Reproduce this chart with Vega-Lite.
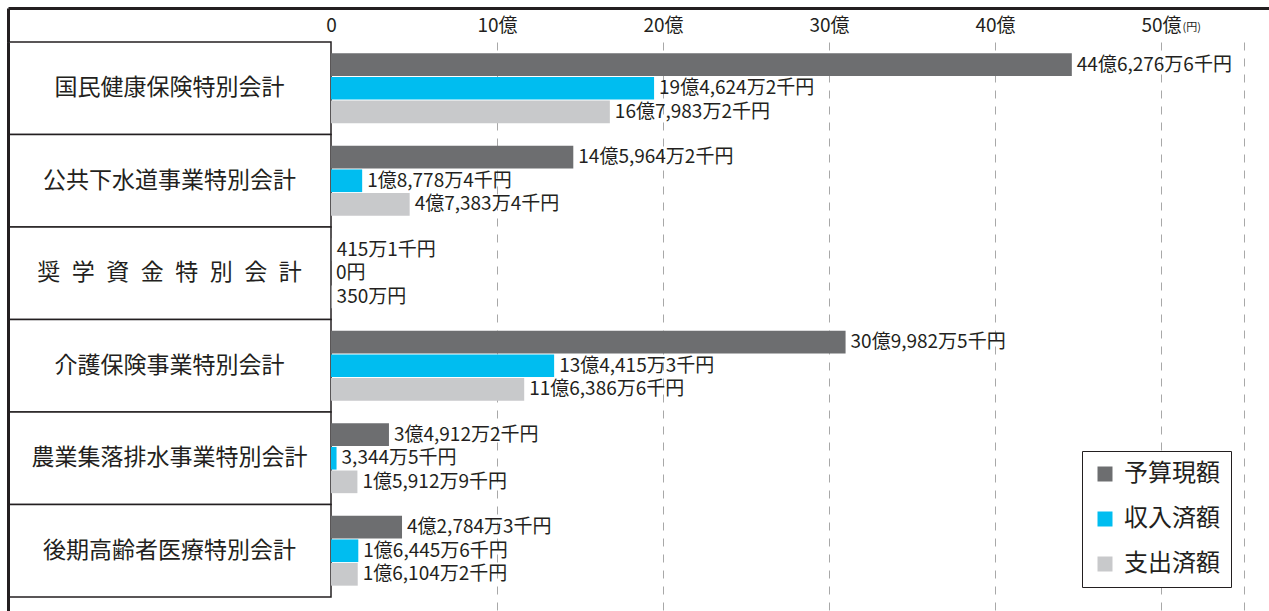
{
  "$schema": "https://vega.github.io/schema/vega-lite/v6.json",
  "width": 1261,
  "height": 569,
  "autosize": {"type": "none"},
  "padding": {"left": 8, "top": 42, "right": 0, "bottom": 0},
  "background": "white",
  "config": {
    "view": {"stroke": null},
    "font": "Noto Sans CJK JP",
    "legend": {"strokeColor": "#231f20", "fillColor": "white", "padding": 11}
  },
  "data": {
    "values": [
      {"cat": "国民健康保険特別会計", "series": "予算現額", "value": 4462766000, "label": "44億6,276万6千円"},
      {"cat": "国民健康保険特別会計", "series": "収入済額", "value": 1946242000, "label": "19億4,624万2千円"},
      {"cat": "国民健康保険特別会計", "series": "支出済額", "value": 1679832000, "label": "16億7,983万2千円"},
      {"cat": "公共下水道事業特別会計", "series": "予算現額", "value": 1459642000, "label": "14億5,964万2千円"},
      {"cat": "公共下水道事業特別会計", "series": "収入済額", "value": 187784000, "label": "1億8,778万4千円"},
      {"cat": "公共下水道事業特別会計", "series": "支出済額", "value": 473834000, "label": "4億7,383万4千円"},
      {"cat": "奨\u2002学\u2002資\u2002金\u2002特\u2002別\u2002会\u2002計", "series": "予算現額", "value": 4151000, "label": "415万1千円"},
      {"cat": "奨\u2002学\u2002資\u2002金\u2002特\u2002別\u2002会\u2002計", "series": "収入済額", "value": 0, "label": "0円"},
      {"cat": "奨\u2002学\u2002資\u2002金\u2002特\u2002別\u2002会\u2002計", "series": "支出済額", "value": 3500000, "label": "350万円"},
      {"cat": "介護保険事業特別会計", "series": "予算現額", "value": 3099825000, "label": "30億9,982万5千円"},
      {"cat": "介護保険事業特別会計", "series": "収入済額", "value": 1344153000, "label": "13億4,415万3千円"},
      {"cat": "介護保険事業特別会計", "series": "支出済額", "value": 1163866000, "label": "11億6,386万6千円"},
      {"cat": "農業集落排水事業特別会計", "series": "予算現額", "value": 349122000, "label": "3億4,912万2千円"},
      {"cat": "農業集落排水事業特別会計", "series": "収入済額", "value": 33445000, "label": "3,344万5千円"},
      {"cat": "農業集落排水事業特別会計", "series": "支出済額", "value": 159129000, "label": "1億5,912万9千円"},
      {"cat": "後期高齢者医療特別会計", "series": "予算現額", "value": 427843000, "label": "4億2,784万3千円"},
      {"cat": "後期高齢者医療特別会計", "series": "収入済額", "value": 164456000, "label": "1億6,445万6千円"},
      {"cat": "後期高齢者医療特別会計", "series": "支出済額", "value": 161042000, "label": "1億6,104万2千円"}
    ]
  },
  "encoding": {
    "y": {
      "field": "cat",
      "type": "nominal",
      "sort": ["国民健康保険特別会計", "公共下水道事業特別会計", "奨\u2002学\u2002資\u2002金\u2002特\u2002別\u2002会\u2002計", "介護保険事業特別会計", "農業集落排水事業特別会計", "後期高齢者医療特別会計"],
      "scale": {"paddingInner": 0, "paddingOuter": 0.0757, "align": 0},
      "axis": {"orient": "left", "labels": false, "ticks": false, "grid": false, "domain": true, "domainColor": "#231f20", "domainWidth": 3, "title": null, "zindex": 2}
    }
  },
  "resolve": {"axis": {"x": "independent"}},
  "layer": [
    {
      "transform": [{"filter": "datum.series === '予算現額'"}],
      "mark": {"type": "rect", "fill": "white", "stroke": "#231f20", "strokeWidth": 1.5},
      "encoding": {
        "x": {"datum": -1945783133, "type": "quantitative", "scale": {"domain": [-1945783133, 5650602410], "nice": false, "zero": false}, "axis": null},
        "x2": {"datum": 0}
      }
    },
    {
      "transform": [{"filter": "datum.series === '予算現額'"}],
      "mark": {"type": "text", "fontSize": 23, "color": "#231f20", "align": "center", "baseline": "middle"},
      "encoding": {
        "x": {"datum": -972891566, "type": "quantitative", "scale": {"domain": [-1945783133, 5650602410], "nice": false, "zero": false}, "axis": null},
        "text": {"field": "cat"}
      }
    },
    {
      "mark": {"type": "bar"},
      "encoding": {
        "x": {
          "field": "value",
          "type": "quantitative",
          "scale": {"domain": [-1945783133, 5650602410], "nice": false, "zero": false},
          "axis": {
            "orient": "top",
            "offset": 34,
            "title": null,
            "values": [-1945783133, 0, 1000000000, 2000000000, 3000000000, 4000000000, 5000000000, 5500000000],
            "labelExpr": "datum.value == 0 ? '0' : ((datum.value >= 1000000000 && datum.value <= 5000000000) ? (round(datum.value / 100000000) + '億') : '')",
            "labelFontSize": 19,
            "labelColor": "#231f20",
            "labelBaseline": "middle",
            "labelPadding": 17,
            "labelFlush": false,
            "labelOverlap": false,
            "labelBound": false,
            "domain": true,
            "domainColor": "#231f20",
            "domainWidth": 3,
            "ticks": true,
            "tickSize": -34,
            "tickWidth": 3,
            "tickColor": "#231f20",
            "tickOpacity": {"condition": {"test": "datum.value < 0", "value": 1}, "value": 0},
            "grid": true,
            "gridColor": "#a8a8a8",
            "gridWidth": 1,
            "gridDash": [8, 8],
            "gridOpacity": {"condition": {"test": "datum.value > 0", "value": 1}, "value": 0}
          }
        },
        "yOffset": {
          "field": "series",
          "type": "nominal",
          "sort": ["予算現額", "収入済額", "支出済額"],
          "scale": {"paddingInner": 0.04, "paddingOuter": 0.48}
        },
        "color": {
          "field": "series",
          "type": "nominal",
          "sort": ["予算現額", "収入済額", "支出済額"],
          "scale": {"domain": ["予算現額", "収入済額", "支出済額"], "range": ["#6d6e70", "#00bdf0", "#c8c9cb"]},
          "legend": {
            "title": null,
            "orient": "none",
            "legendX": 1074,
            "legendY": 409,
            "symbolType": "square",
            "symbolSize": 225,
            "symbolStrokeWidth": 0,
            "labelFontSize": 24,
            "labelColor": "#231f20",
            "labelOffset": 7,
            "rowPadding": 21
          }
        }
      }
    },
    {
      "mark": {"type": "text", "fontSize": 19, "color": "#231f20", "align": "left", "baseline": "middle", "dx": 5},
      "encoding": {
        "x": {
          "field": "value",
          "type": "quantitative",
          "scale": {"domain": [-1945783133, 5650602410], "nice": false, "zero": false},
          "axis": {
            "orient": "top",
            "offset": 34,
            "title": null,
            "values": [5000000000],
            "labelExpr": "'(円)'",
            "labelFontSize": 11,
            "labelColor": "#231f20",
            "labelAlign": "left",
            "labelBaseline": "middle",
            "labelOffset": 21,
            "labelPadding": -19,
            "labelFlush": false,
            "labelBound": false,
            "domain": false,
            "ticks": false,
            "grid": false
          }
        },
        "yOffset": {"field": "series", "type": "nominal", "sort": ["予算現額", "収入済額", "支出済額"]},
        "text": {"field": "label"}
      }
    }
  ]
}
